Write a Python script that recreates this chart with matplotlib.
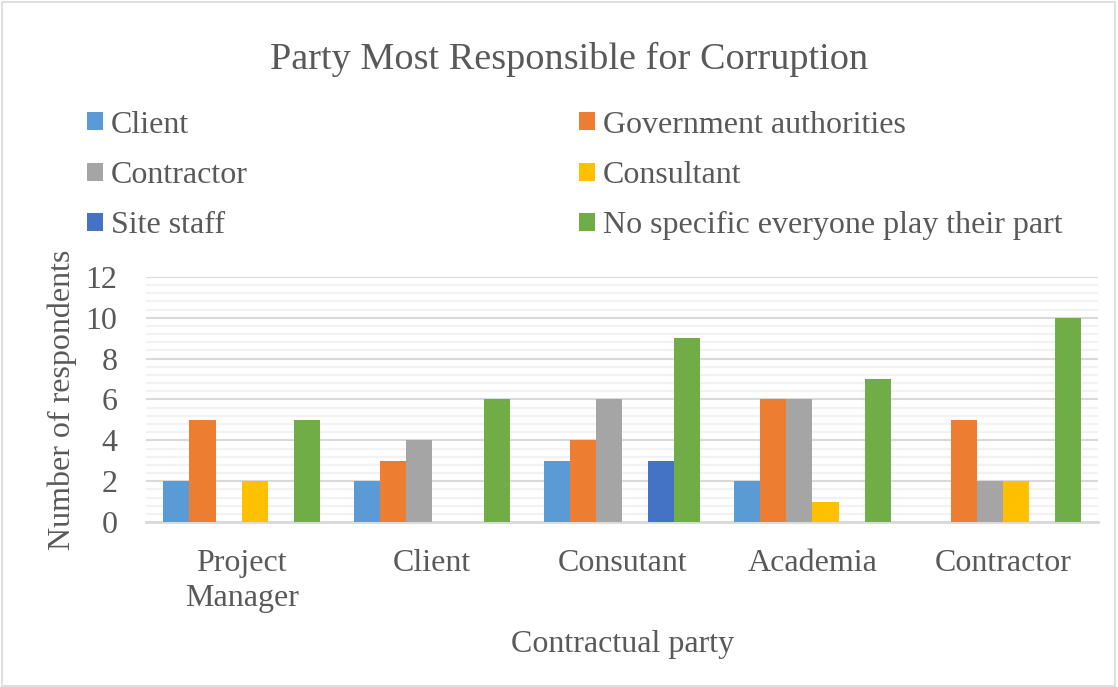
import matplotlib.pyplot as plt
import numpy as np
from matplotlib.patches import Patch, Rectangle
from matplotlib.ticker import MultipleLocator

# data
parties = ["Project\nManager", "Client", "Consutant", "Academia", "Contractor"]
series = ["Client", "Government authorities", "Contractor", "Consultant",
          "Site staff", "No specific everyone play their part"]
client = [2, 2, 3, 2, 0]
government = [5, 3, 4, 6, 5]
contractor = [0, 4, 6, 6, 2]
consultant = [2, 0, 0, 1, 2]
site_staff = [0, 0, 3, 0, 0]
no_specific = [5, 6, 9, 7, 10]
values = [client, government, contractor, consultant, site_staff, no_specific]
colors = ["#5B9BD5", "#ED7D31", "#A5A5A5", "#FFC000", "#4472C4", "#70AD47"]

plt.rcParams['font.family'] = ['Liberation Serif', 'DejaVu Serif']
txt = "#595959"
fs = 23

fig = plt.figure(figsize=(11.18, 6.87), dpi=100)
fig.patches.append(Rectangle((0.002, 0.002), 0.995, 0.995, transform=fig.transFigure,
                             fill=False, edgecolor="#D9D9D9", linewidth=1.2))
ax = fig.add_axes([0.131, 0.240, 0.851, 0.357])

x = np.arange(len(parties))
w = 0.137
for i, (vals, c) in enumerate(zip(values, colors)):
    ax.bar(x + (i - 2.5) * w, vals, w, color=c, label=series[i], zorder=3)

ax.set_xlim(-0.5, len(parties) - 0.5)
ax.set_ylim(0, 12)
ax.yaxis.set_major_locator(MultipleLocator(2))
ax.yaxis.set_minor_locator(MultipleLocator(0.4))
ax.grid(axis='y', which='major', color="#D9D9D9", linewidth=1.5, zorder=0)
ax.grid(axis='y', which='minor', color="#F2F2F2", linewidth=1.5, zorder=0)
for s in ["top", "right", "left"]:
    ax.spines[s].set_visible(False)
ax.spines["bottom"].set_color("#D9D9D9")
ax.spines["bottom"].set_linewidth(2)
ax.tick_params(axis='both', which='both', length=0, labelsize=fs, colors=txt)
ax.tick_params(axis='y', pad=21)
ax.tick_params(axis='x', pad=19)
ax.set_xticks(x)
ax.set_xticklabels(parties, linespacing=1.3)
ax.set_ylabel("Number of respondents", fontsize=fs, color=txt, labelpad=6)
ax.set_xlabel("Contractual party", fontsize=fs, color=txt, labelpad=12)

fig.text(0.509, 0.913, "Party Most Responsible for Corruption", ha='center', va='center',
         fontsize=27.5, color=txt)

handles = [Patch(facecolor=c, edgecolor='none') for c in colors]
for col, xa in enumerate([0.0775, 0.518]):
    idx = [col, col + 2, col + 4]
    leg = fig.legend([handles[i] for i in idx], [series[i] for i in idx],
                     loc='upper left', bbox_to_anchor=(xa, 0.839), frameon=False,
                     fontsize=fs, handlelength=0.5, handleheight=0.5,
                     handletextpad=0.25, labelspacing=0.67, borderaxespad=0,
                     borderpad=0)
    for t in leg.get_texts():
        t.set_color(txt)

fig.savefig("out.png", dpi=100)
